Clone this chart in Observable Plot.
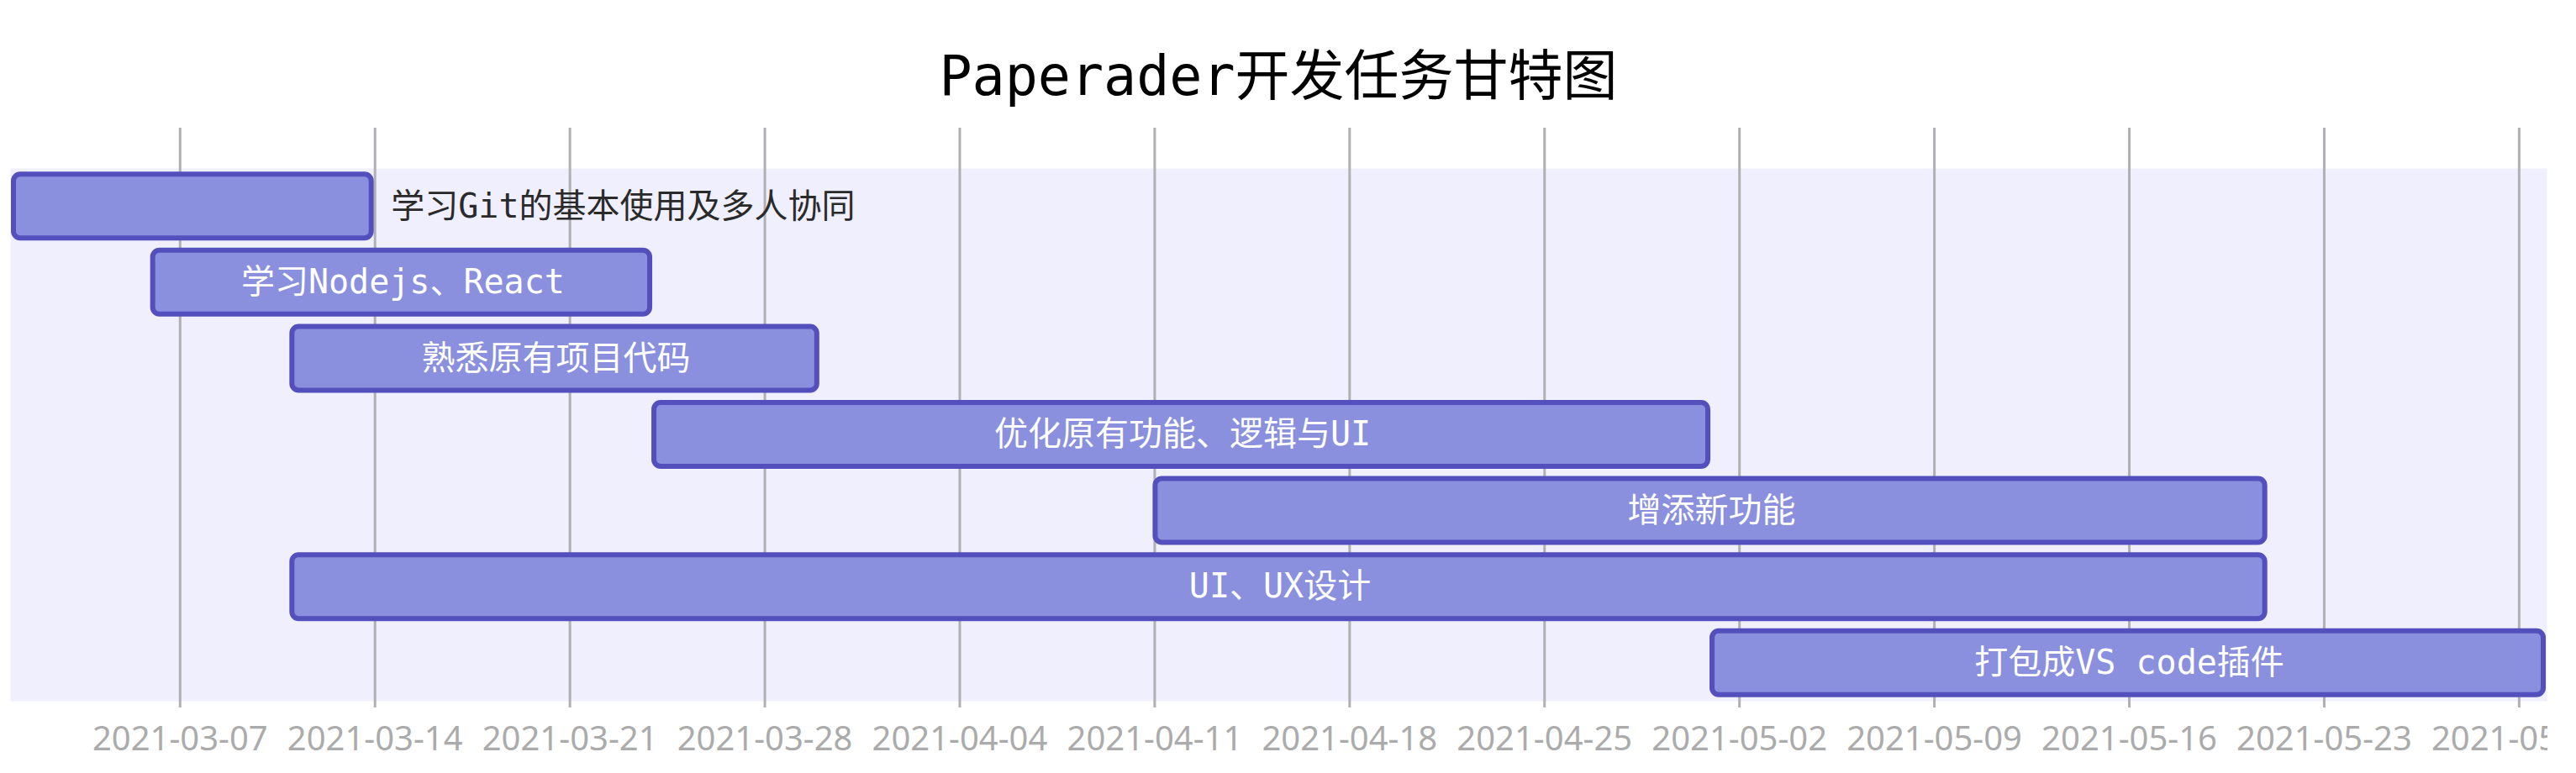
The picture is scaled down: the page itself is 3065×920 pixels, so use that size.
<!DOCTYPE html>
<html><head><meta charset="utf-8">
<script src="https://cdn.jsdelivr.net/npm/d3@7"></script>
<script src="https://cdn.jsdelivr.net/npm/@observablehq/plot@0.6"></script>
<style>
html,body{margin:0;padding:0;background:#fff;overflow:hidden;width:3065px;height:920px}
#title{position:absolute;left:0;top:58px;width:3042px;text-align:center;font-family:"DejaVu Sans Mono","Noto Sans CJK SC",monospace;font-size:65px;line-height:65px;color:#000;white-space:nowrap}
#chart{position:absolute;left:0;top:152px;width:3031px;height:768px;overflow:hidden}
#chart svg{max-width:none !important;width:3065px;height:768px}
</style></head><body>
<div id="title">Paperader开发任务甘特图</div>
<div id="chart"></div>
<script>
const taskNames = ["学习Git的基本使用及多人协同", "学习Nodejs、React", "熟悉原有项目代码", "优化原有功能、逻辑与UI", "增添新功能", "UI、UX设计", "打包成VS code插件"];
const taskStarts = ["2021-03-01", "2021-03-06", "2021-03-11", "2021-03-24", "2021-04-11", "2021-03-11", "2021-05-01"];
const taskEnds = ["2021-03-14", "2021-03-24", "2021-03-30", "2021-05-01", "2021-05-21", "2021-05-21", "2021-05-31"];
const tickLabels = ["2021-03-07", "2021-03-14", "2021-03-21", "2021-03-28", "2021-04-04", "2021-04-11", "2021-04-18", "2021-04-25", "2021-05-02", "2021-05-09", "2021-05-16", "2021-05-23", "2021-05-30"];
const domainDates = ["2021-03-01", "2021-05-31"];

const parse = d3.utcParse("%Y-%m-%d");
const W = 3065, H = 768, mL = 15, mR = 35, mT = 48, mB = 86;
const x0 = parse(domainDates[0]), x1 = parse(domainDates[1]);
const pxPerMs = (W - mL - mR) / (x1 - x0);
const taskFont = '"DejaVu Sans Mono", "Noto Sans CJK SC", monospace';
const taskSize = 40;
const ctx = document.createElement("canvas").getContext("2d");
ctx.font = `${taskSize}px ${taskFont}`;

const tasks = taskNames.map((name, i) => {
  const start = parse(taskStarts[i]), end = parse(taskEnds[i]);
  return {name, start, end, mid: new Date((+start + +end) / 2),
    outside: ctx.measureText(name).width > (end - start) * pxPerMs};
});
const ticks = tickLabels.map(parse);

const chart = Plot.plot({
  width: W, height: H,
  marginLeft: mL, marginRight: mR, marginTop: mT, marginBottom: mB,
  x: {type: "utc", domain: [x0, x1]},
  y: {domain: taskNames, padding: 0, round: false, axis: null},
  style: {background: "white", fontFamily: taskFont, maxWidth: "none"},
  marks: [
    Plot.frame({fill: "#efeffd", stroke: "none", insetLeft: -3}),
    Plot.ruleX(ticks, {x: d => d, stroke: "#b0b0b4", strokeWidth: 3, insetTop: -mT, insetBottom: -8}),
    Plot.barX(tasks, {x1: "start", x2: "end", y: "name", fill: "#8a90dd", stroke: "#534fbc", strokeWidth: 6, rx: 8,
      insetTop: 7.3, insetBottom: 7.3, insetLeft: 1, insetRight: 4}),
    Plot.text(tasks.filter(d => !d.outside), {x: "mid", y: "name", text: "name", fill: "white", fontSize: taskSize, fontFamily: taskFont}),
    Plot.text(tasks.filter(d => d.outside), {x: "end", y: "name", text: "name", textAnchor: "start", dx: 19, fill: "#2a2a2a", fontSize: taskSize, fontFamily: taskFont}),
    Plot.axisX(ticks, {tickSize: 0, tickPadding: 30, tickFormat: d3.utcFormat("%Y-%m-%d"), fontSize: 40, fontFamily: '"Noto Sans", sans-serif', color: "#ababab", label: null})
  ]
});
document.getElementById("chart").appendChild(chart);
</script>
</body></html>
